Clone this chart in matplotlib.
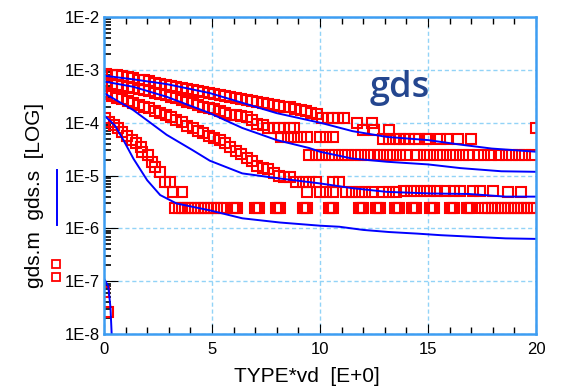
import numpy as np
import matplotlib.pyplot as plt
from matplotlib.lines import Line2D
from matplotlib.ticker import FixedLocator, LogLocator, NullFormatter, MultipleLocator

plt.rcParams['font.family'] = ['Liberation Sans', 'DejaVu Sans']

# simulated gds (blue lines), values given as log10
sim1_x = [0, 1.35, 2.9, 4.9, 6.45, 8.0, 10.1, 11.5, 13.1, 15.0, 16.4, 17.95, 20]
sim1_exp = [-3.11, -3.18, -3.27, -3.44, -3.63, -3.82, -4.01, -4.16, -4.27, -4.33, -4.41, -4.49, -4.55]
sim2_x = [0, 1.35, 2.9, 4.9, 6.4, 8.0, 9.5, 10.0, 11.5, 13.1, 15.0, 16.5, 18.4, 20]
sim2_exp = [-3.22, -3.32, -3.51, -3.82, -4.10, -4.33, -4.48, -4.55, -4.68, -4.74, -4.79, -4.86, -4.92, -4.93]
sim3_x = [0, 1.35, 2.9, 4.1, 4.9, 6.4, 8.0, 10.0, 11.5, 13.1, 15.1, 16.9, 18.6, 20]
sim3_exp = [-3.44, -3.76, -4.23, -4.52, -4.72, -4.96, -5.05, -5.15, -5.24, -5.31, -5.34, -5.35, -5.40, -5.40]
sim4_x = [0, 0.5, 0.9, 1.36, 2.0, 2.6, 3.36, 4.9, 6.4, 8.15, 10.0, 10.9, 12.0, 13.2, 14.5, 15.6, 17.1, 18.6, 20]
sim4_exp = [-3.86, -4.05, -4.33, -4.68, -5.09, -5.37, -5.53, -5.66, -5.81, -5.89, -5.95, -5.97, -6.03, -6.07,
            -6.10, -6.13, -6.16, -6.19, -6.20]
sim5_x = [0, 0.2, 0.3, 0.36]
sim5_exp = [-6.95, -7.1, -7.5, -8.05]

# measured gds (red squares), log10
meas1_x = [0.1, 0.35, 0.6, 0.85, 1.1, 1.35, 1.6, 1.85, 2.1, 2.35, 2.6, 2.85, 3.1, 3.35, 3.6, 3.85, 4.1, 4.35,
           4.6, 4.85, 5.1, 5.35, 5.6, 5.85, 6.1, 6.35, 6.6, 6.85, 7.1, 7.35, 7.6, 7.85, 8.1, 8.35, 8.6, 8.85,
           9.1, 9.35, 9.6, 9.85, 10.1, 10.35, 10.6, 10.85, 11.1, 11.7, 12.4, 12.0, 12.5, 13.2,
           12.9, 13.2, 13.5, 13.7, 13.9, 14.1, 14.4, 14.6, 14.9, 15.0, 15.55, 15.9, 16.4, 17.0, 20.0]
meas1_exp = [-3.08, -3.09, -3.10, -3.12, -3.14, -3.16, -3.19, -3.20, -3.22, -3.25, -3.27, -3.28, -3.30, -3.32,
             -3.34, -3.37, -3.39, -3.41, -3.42, -3.44, -3.46, -3.48, -3.50, -3.52, -3.54, -3.56, -3.57, -3.59,
             -3.60, -3.62, -3.64, -3.67, -3.68, -3.70, -3.71, -3.74, -3.76, -3.78, -3.82, -3.84, -3.92, -3.92,
             -3.92, -3.92, -3.92, -4.01, -4.01, -4.14, -4.14, -4.14,
             -4.30, -4.30, -4.30, -4.30, -4.30, -4.30, -4.30, -4.30, -4.30, -4.30, -4.30, -4.30, -4.30, -4.30,
             -4.11]
meas2_x = [0.1, 0.35, 0.6, 0.85, 1.1, 1.35, 1.6, 1.85, 2.1, 2.35, 2.6, 2.85, 3.1, 3.35, 3.6, 3.85, 4.1, 4.35,
           4.6, 4.85, 5.1, 5.35, 5.6, 5.85, 6.1, 6.35, 6.6, 6.85, 7.1, 7.35, 7.6, 7.85, 8.1, 8.35, 8.6, 8.8,
           8.2, 8.5, 8.8, 9.1, 9.4, 10.0, 10.3, 10.6,
           9.5, 9.8, 10.1, 10.4, 10.7, 11.0, 11.3, 11.6, 11.9, 12.2, 12.5, 12.8, 13.1, 13.4, 13.7, 14.0, 14.5,
           14.8, 15.1, 15.4, 15.7, 16.0, 16.3, 16.6, 16.9, 17.3, 17.6, 17.9, 18.3, 18.6, 18.9, 19.2, 19.5, 19.8]
meas2_exp = [-3.24, -3.26, -3.28, -3.30, -3.32, -3.35, -3.37, -3.39, -3.41, -3.43, -3.45, -3.48, -3.51, -3.54,
             -3.57, -3.60, -3.63, -3.67, -3.70, -3.72, -3.74, -3.77, -3.81, -3.85, -3.86, -3.88, -3.90, -3.95,
             -4.03, -4.05, -4.11, -4.11, -4.11, -4.11, -4.11, -4.11,
             -4.28, -4.28, -4.28, -4.28, -4.28, -4.28, -4.28, -4.28,
             -4.61, -4.61, -4.61, -4.61, -4.61, -4.61, -4.61, -4.61, -4.61, -4.61, -4.61, -4.61, -4.61, -4.61,
             -4.61, -4.61, -4.61, -4.61, -4.61, -4.61, -4.61, -4.61, -4.61, -4.61, -4.61, -4.61, -4.61, -4.61,
             -4.61, -4.61, -4.61, -4.61, -4.61, -4.61]
meas3_x = [0.1, 0.35, 0.6, 0.85, 1.1, 1.35, 1.6, 1.85, 2.1, 2.35, 2.6, 2.85, 3.1, 3.35, 3.6, 3.85, 4.1, 4.35,
           4.6, 4.85, 5.1, 5.35, 5.6, 5.85, 6.1, 6.35, 6.6, 6.85, 7.1, 7.35, 7.6, 7.85, 8.1, 8.35, 8.6, 8.9,
           9.2, 9.5, 9.8, 10.6, 10.9,
           9.4, 10.0, 10.3, 10.6, 11.2, 11.5, 11.8, 12.1, 12.4, 12.9, 13.2, 13.5, 13.9, 14.2, 14.5, 14.8, 15.1,
           15.4, 15.8, 16.2, 16.5, 17.1, 17.4, 18.0, 18.7, 19.3]
meas3_exp = [-3.46, -3.50, -3.53, -3.56, -3.59, -3.63, -3.67, -3.70, -3.73, -3.77, -3.82, -3.86, -3.90, -3.95,
             -3.99, -4.06, -4.10, -4.15, -4.20, -4.25, -4.29, -4.33, -4.38, -4.46, -4.54, -4.60, -4.66, -4.72,
             -4.82, -4.86, -4.88, -4.95, -5.00, -5.02, -5.02, -5.12, -5.12, -5.12, -5.12, -5.12, -5.12,
             -5.31, -5.31, -5.31, -5.31, -5.31, -5.31, -5.31, -5.31, -5.31, -5.31, -5.31, -5.31, -5.30, -5.30,
             -5.30, -5.30, -5.30, -5.29, -5.29, -5.29, -5.29, -5.29, -5.29, -5.30, -5.31, -5.31]
meas4_x = [0.05, 0.25, 0.45, 0.65, 0.85, 1.05, 1.3, 1.5, 1.7, 1.75, 2.05, 2.2, 2.36, 2.59, 2.82, 3.06, 3.2, 3.6,
           3.3, 3.45, 3.6, 3.75, 3.9, 4.05, 4.2, 4.35, 4.5, 4.65, 4.8, 4.95, 5.1, 5.25, 5.4, 5.55,
           5.97, 6.07, 6.17, 6.97, 7.07, 7.17, 7.96, 8.06, 8.16, 9.2, 9.3, 9.4, 10.4, 10.5, 10.6,
           11.8, 11.9, 12.0, 12.6, 12.7, 12.8, 13.45, 13.55, 13.65, 14.25, 14.35, 14.45, 15.1, 15.2, 15.3,
           16.0, 16.1, 16.2, 16.8, 16.9, 17.0,
           17.5, 17.65, 17.8, 17.95, 18.1, 18.25, 18.4, 18.55, 18.7, 18.85, 19.0, 19.15, 19.3, 19.45, 19.6,
           19.75, 19.9]
meas4_exp = [-3.92, -3.98, -4.05, -4.11, -4.18, -4.25, -4.33, -4.39, -4.47, -4.55, -4.61, -4.74, -4.83, -4.93,
             -5.12, -5.12, -5.31, -5.31] + [-5.62] * 16 + [-5.62] * 36 + [-5.62] * 17
meas5_x = [0.0, 0.2]
meas5_exp = [-7.2, -7.58]

sim_x = [sim1_x, sim2_x, sim3_x, sim4_x, sim5_x]
sim_exp = [sim1_exp, sim2_exp, sim3_exp, sim4_exp, sim5_exp]
meas_x = [meas1_x, meas2_x, meas3_x, meas4_x, meas5_x]
meas_exp = [meas1_exp, meas2_exp, meas3_exp, meas4_exp, meas5_exp]

decades = [-8, -7, -6, -5, -4, -3, -2]
ytick_labels = ['1E-8', '1E-7', '1E-6', '1E-5', '1E-4', '1E-3', '1E-2']
xticks = [0, 5, 10, 15, 20]

spine_blue = '#3d9df2'
grid_blue = '#92d3f7'

fig = plt.figure(figsize=(5.62, 3.9), dpi=100)
ax = fig.add_axes([104 / 562, 1 - 334 / 390, 432 / 562, 317 / 390])

for xs, ex in zip(meas_x, meas_exp):
    ax.plot(xs, 10.0 ** np.array(ex), ls='none', marker='s', ms=6.8, mfc='none', mec='#ff0000', mew=1.5)
for xs, ex in zip(sim_x, sim_exp):
    ax.plot(xs, 10.0 ** np.array(ex), color='#0000ff', lw=1.4)

ax.set_yscale('log')
ax.set_xlim(0, 20)
ax.set_ylim(1e-8, 1e-2)

ax.yaxis.set_major_locator(FixedLocator([10.0 ** d for d in decades]))
ax.set_yticklabels(ytick_labels)
ax.yaxis.set_minor_locator(LogLocator(base=10, subs=range(2, 10), numticks=20))
ax.yaxis.set_minor_formatter(NullFormatter())
ax.set_xticks(xticks)
ax.xaxis.set_minor_locator(MultipleLocator(1))

ax.grid(True, which='major', color=grid_blue, ls=(0, (3, 2)), lw=1)
ax.set_axisbelow(True)

ax.tick_params(axis='x', which='both', direction='in', top=True, bottom=True, color='k', labelsize=12, pad=6)
ax.tick_params(axis='x', which='major', length=7, width=0.8)
ax.tick_params(axis='x', which='minor', length=5, width=1)
ax.tick_params(axis='y', which='both', direction='in', left=True, right=False, color='k', labelsize=12, pad=3)
ax.tick_params(axis='y', which='major', length=10, width=0.8)
ax.tick_params(axis='y', which='minor', length=5, width=1.2)

for s in ax.spines.values():
    s.set_color(spine_blue)
    s.set_linewidth(1.8)

ax.set_xlabel('TYPE*vd  [E+0]', fontsize=15)
ax.xaxis.set_label_coords((307 - 104) / 432, -(376 - 334) / 317)
ax.xaxis.label.set_va('center')
ax.set_ylabel('gds.m  gds.s  [LOG]', fontsize=15)
ax.yaxis.set_label_coords((35 - 104) / 432, (334 - 195) / 317)
ax.yaxis.label.set_va('center')

# legend marks beside the y label
fig.add_artist(Line2D([57 / 562, 57 / 562], [1 - 170 / 390, 1 - 225 / 390], color='#0000ff', lw=1.4,
                      transform=fig.transFigure))
fig.add_artist(Line2D([56 / 562, 56 / 562], [1 - 264 / 390, 1 - 277 / 390], ls='none', marker='s', ms=6,
                      mfc='none', mec='#ff0000', mew=1.3, transform=fig.transFigure))

ax.text((400 - 104) / 432, (334 - 97) / 317, 'gds', transform=ax.transAxes, ha='center', va='baseline',
        fontsize=26, fontweight='semibold', color='#24468f', family=['Open Sans', 'DejaVu Sans'])

fig.savefig('out.png', dpi=100)
